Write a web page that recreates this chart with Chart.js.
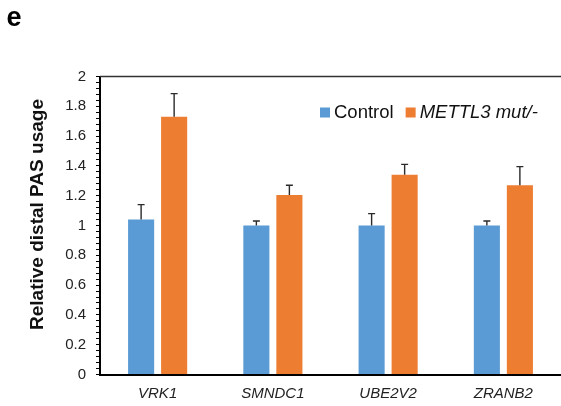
<!DOCTYPE html>
<html>
<head>
<meta charset="utf-8">
<script src="https://cdn.jsdelivr.net/npm/chart.js@4.4.1/dist/chart.umd.min.js"></script>
<style>
  html, body { margin: 0; padding: 0; background: #fff; }
  #wrap { width: 561px; height: 406px; position: relative; }
</style>
</head>
<body>
<div id="wrap"><canvas id="myChart"></canvas></div>
<script>
var genes = ["VRK1", "SMNDC1", "UBE2V2", "ZRANB2"];
var seriesNames = ["Control", "METTL3 mut/-"];
var controlVals = [1.04, 1.0, 1.0, 1.0];
var controlErr = [0.10, 0.03, 0.08, 0.03];
var mutVals = [1.73, 1.205, 1.34, 1.27];
var mutErr = [0.155, 0.065, 0.07, 0.125];
var yMin = 0, yMax = 2, yMinorStep = 0.04, yMajorStep = 0.2;

var FONT = "'Liberation Sans', Arial, sans-serif";

// error bars, axis top line, y title, legend and panel letter
var extras = {
  id: 'extras',
  afterDatasetsDraw: function(chart) {
    var ctx = chart.ctx, y = chart.scales.y;
    ctx.save();
    ctx.strokeStyle = '#2b2b2b';
    ctx.lineWidth = 1.4;
    chart.data.datasets.forEach(function(ds, i) {
      var meta = chart.getDatasetMeta(i);
      meta.data.forEach(function(bar, j) {
        var top = y.getPixelForValue(ds.data[j] + ds.errors[j]);
        ctx.beginPath();
        ctx.moveTo(bar.x, bar.y);
        ctx.lineTo(bar.x, top);
        ctx.moveTo(bar.x - 3.5, top);
        ctx.lineTo(bar.x + 3.5, top);
        ctx.stroke();
      });
    });
    ctx.restore();
  },
  afterDraw: function(chart) {
    var ctx = chart.ctx, area = chart.chartArea;
    ctx.save();
    // top line of the plot frame
    ctx.strokeStyle = '#333';
    ctx.lineWidth = 1.5;
    ctx.beginPath();
    ctx.moveTo(area.left, area.top);
    ctx.lineTo(area.right, area.top);
    ctx.stroke();

    // y axis title
    ctx.fillStyle = '#111';
    ctx.font = 'bold 19px ' + FONT;
    ctx.textAlign = 'center';
    ctx.textBaseline = 'alphabetic';
    ctx.translate(42.5, 214.5);
    ctx.rotate(-Math.PI / 2);
    ctx.fillText('Relative distal PAS usage', 0, 0);
    ctx.restore();

    // legend
    ctx.save();
    var x = 320;
    ctx.textBaseline = 'alphabetic';
    ctx.textAlign = 'left';
    chart.data.datasets.forEach(function(ds, i) {
      ctx.fillStyle = ds.backgroundColor;
      ctx.fillRect(x, 107.5, 10, 10);
      ctx.font = (i === 1 ? 'italic ' : '') + '18.5px ' + FONT;
      ctx.fillStyle = '#111';
      ctx.fillText(ds.label, x + 14, 117.5);
      x += 14 + ctx.measureText(ds.label).width + 12;
    });

    // panel letter
    ctx.font = 'bold 27px ' + FONT;
    ctx.fillStyle = '#000';
    ctx.fillText('e', 6.5, 26);
    ctx.restore();
  }
};

var ctx = document.getElementById("myChart");
var myChart = new Chart(ctx, {
  type: 'bar',
  data: {
    labels: genes,
    datasets: [
      {
        label: seriesNames[0],
        data: controlVals,
        errors: controlErr,
        backgroundColor: '#5B9BD5'
      },
      {
        label: seriesNames[1],
        data: mutVals,
        errors: mutErr,
        backgroundColor: '#ED7D31'
      }
    ]
  },
  options: {
    responsive: true,
    maintainAspectRatio: false,
    animation: false,
    layout: { padding: { top: 76.5, left: 0, right: 0, bottom: 0 } },
    categoryPercentage: 0.573,
    barPercentage: 0.79,
    plugins: {
      legend: { display: false },
      tooltip: { enabled: false }
    },
    scales: {
      x: {
        grid: { display: false, drawTicks: false },
        border: { display: true, color: '#000', width: 2 },
        ticks: {
          padding: 10,
          color: '#222',
          font: { family: FONT, size: 15, style: 'italic' }
        },
        afterFit: function(s) { s.height = 31.5; }
      },
      y: {
        min: yMin,
        max: yMax,
        grid: {
          drawOnChartArea: false,
          drawTicks: true,
          tickLength: 4,
          tickColor: '#000',
          lineWidth: 1
        },
        border: { display: true, color: '#000', width: 2 },
        ticks: {
          stepSize: yMinorStep,
          maxTicksLimit: 60,
          autoSkip: false,
          padding: 10,
          color: '#222',
          font: { family: FONT, size: 15 },
          callback: function(v) {
            var r = Math.round(v * 100);
            return r % Math.round(yMajorStep * 100) === 0 ? String(r / 100) : '';
          }
        },
        afterFit: function(s) { s.width = 100; }
      }
    }
  },
  plugins: [extras]
});
</script>
</body>
</html>
